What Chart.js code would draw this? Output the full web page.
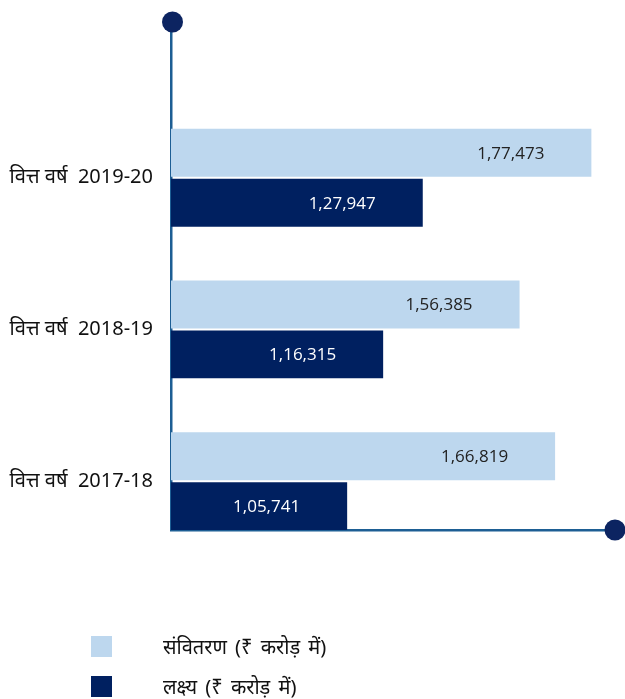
<!DOCTYPE html>
<html>
<head>
<meta charset="utf-8">
<script src="https://cdn.jsdelivr.net/npm/chart.js@4"></script>
<style>
  html, body { margin: 0; padding: 0; background: #fff; }
  #wrap { position: relative; width: 625px; height: 699px; overflow: hidden; }
  #c { position: absolute; left: 0; top: 0; }
  #legend { position: absolute; left: 91px; top: 636px; font-family: "Noto Sans", "Noto Sans Devanagari", sans-serif; font-size: 20px; word-spacing: 3px; color: #111; }
  .li { display: flex; align-items: center; height: 21px; margin-bottom: 19px; }
  .sw { width: 21px; height: 21px; margin-right: 51px; flex: none; }
</style>
</head>
<body>
<div id="wrap">
  <canvas id="c" width="625" height="699"></canvas>
  <div id="legend"></div>
</div>
<script>
// ---- data ----
const categories = ["वित्त वर्ष  2019-20", "वित्त वर्ष  2018-19", "वित्त वर्ष  2017-18"];
const disbursement = [177473, 156385, 166819];   // संवितरण (₹ करोड़ में)
const target = [127947, 116315, 105741];         // लक्ष्य (₹ करोड़ में)
const seriesNames = ["संवितरण (₹ करोड़ में)", "लक्ष्य (₹ करोड़ में)"];
const seriesColors = ["#bdd7ee", "#002060"];
const labelColors = ["#222222", "#ffffff"];

const toPoints = vals => vals.map((v, i) => ({ x: v, y: i }));

const valueLabels = {
  id: "valueLabels",
  afterDatasetsDraw(chart) {
    const ctx = chart.ctx;
    ctx.save();
    ctx.font = '17px "Open Sans", sans-serif';
    ctx.textAlign = "right";
    ctx.textBaseline = "middle";
    chart.data.datasets.forEach((ds, di) => {
      const meta = chart.getDatasetMeta(di);
      ctx.fillStyle = labelColors[di];
      meta.data.forEach((el, i) => {
        const v = ds.data[i].x;
        ctx.fillText(v.toLocaleString("en-IN"), el.x - 47, el.y + 1);
      });
    });
    ctx.restore();
  }
};

const axisDots = {
  id: "axisDots",
  afterDraw(chart) {
    const { left, top, right, bottom } = chart.chartArea;
    const ctx = chart.ctx;
    ctx.save();
    ctx.fillStyle = "#0c2461";
    ctx.beginPath(); ctx.arc(left + 1.5, top + 1, 10.5, 0, Math.PI * 2); ctx.fill();
    ctx.beginPath(); ctx.arc(right - 2, bottom, 10.5, 0, Math.PI * 2); ctx.fill();
    ctx.restore();
  }
};

const chart = new Chart(document.getElementById("c"), {
  type: "bar",
  data: {
    datasets: [
      { label: seriesNames[0], data: toPoints(disbursement), backgroundColor: seriesColors[0] },
      { label: seriesNames[1], data: toPoints(target), backgroundColor: seriesColors[1] }
    ]
  },
  options: {
    indexAxis: "y",
    responsive: false,
    animation: false,
    categoryPercentage: 0.658,
    barPercentage: 0.96,
    layout: { padding: { top: 21, right: 8, bottom: 169, left: 0 } },
    plugins: { legend: { display: false }, tooltip: { enabled: false } },
    scales: {
      x: {
        type: "linear",
        min: 54000,
        max: 185000,
        grid: { display: false },
        ticks: { display: false },
        border: { display: true, color: "#1d5e94", width: 2.5 },
        afterFit(s) { s.height = 0; s.paddingLeft = 0; s.paddingRight = 0; }
      },
      y: {
        type: "linear",
        offset: false,
        reverse: true,
        min: -1.033,
        max: 2.322,
        grid: { display: false },
        border: { display: true, color: "#1d5e94", width: 2.5 },
        afterBuildTicks(s) { s.ticks = categories.map((_, i) => ({ value: i })); },
        ticks: {
          padding: 10,
          color: "#111",
          font: { family: '"Noto Sans", "Noto Sans Devanagari", sans-serif', size: 20 },
          callback: v => categories[v]
        },
        afterFit(s) { s.width = 171; s.paddingTop = 0; s.paddingBottom = 0; }
      }
    }
  },
  plugins: [valueLabels, axisDots]
});

// HTML legend from the datasets
const lg = document.getElementById("legend");
chart.data.datasets.forEach(ds => {
  const row = document.createElement("div");
  row.className = "li";
  const sw = document.createElement("span");
  sw.className = "sw";
  sw.style.background = ds.backgroundColor;
  const tx = document.createElement("span");
  tx.textContent = ds.label;
  row.appendChild(sw); row.appendChild(tx);
  lg.appendChild(row);
});
</script>
</body>
</html>
